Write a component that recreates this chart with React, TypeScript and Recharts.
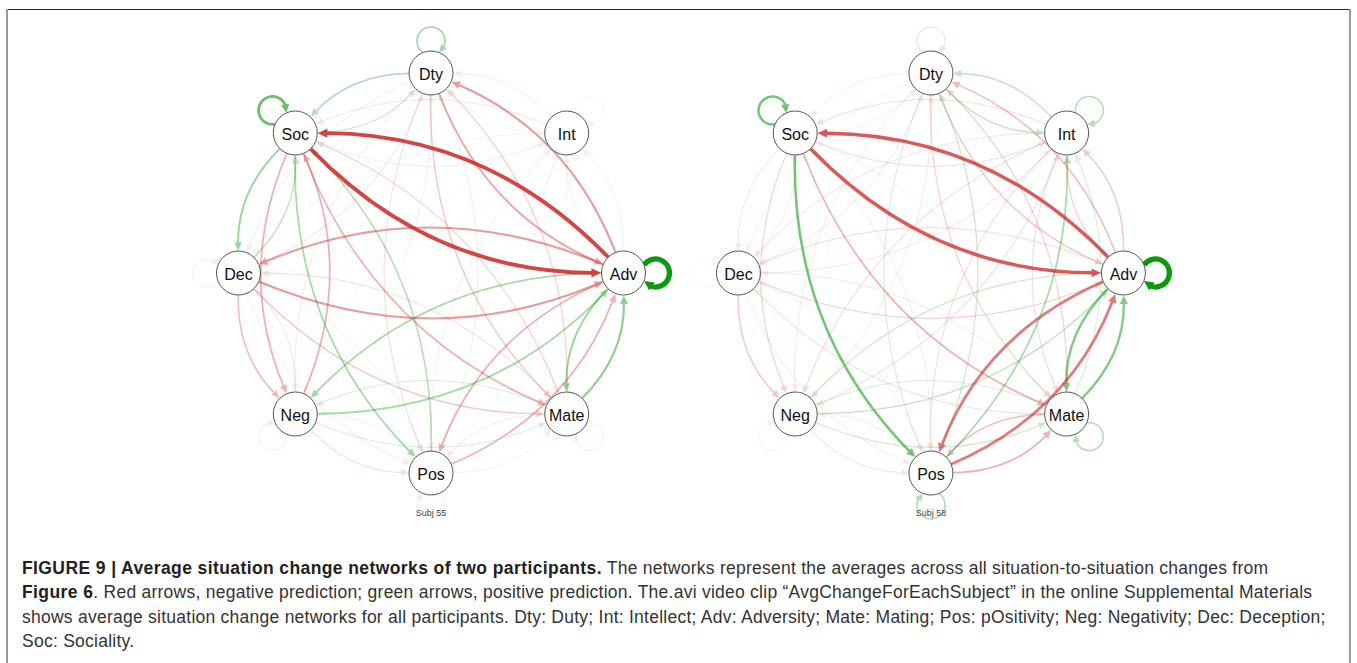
import { ScatterChart, Scatter, XAxis, YAxis } from 'recharts';

// node layout (circle layout, unit radius) – Dty on top, clockwise
const nodeNames = ['Dty', 'Int', 'Adv', 'Mate', 'Pos', 'Neg', 'Dec', 'Soc'];
const nodeX = [0, 0.705, 1, 0.705, 0, -0.705, -1, -0.705];
const nodeY = [1, 0.7, 0, -0.705, -1, -0.705, 0, 0.7];

const networkOffsets = [0, 2.597];
const networkLabels = ['Subj 55', 'Subj 58'];

// self loops, in nodeNames order
const subj55Loops = [0.35, 0.06, 1, 0.1, 0.1, 0.1, 0.1, 0.6];
const subj58Loops = [0.15, 0.3, 1, 0.3, 0.3, 0.08, 0.04, 0.55];

// [from, to, weight]  (negative = red, positive = green)
const subj55Edges: [string, string, number][] = [
  ['Dty', 'Int', -0.05], ['Dty', 'Adv', -0.4], ['Dty', 'Mate', -0.25], ['Dty', 'Pos', -0.15],
  ['Dty', 'Neg', -0.1], ['Dty', 'Dec', 0.1], ['Dty', 'Soc', 0.3],
  ['Int', 'Dty', -0.1], ['Int', 'Adv', 0.08], ['Int', 'Mate', -0.05], ['Int', 'Pos', -0.08],
  ['Int', 'Neg', 0.05], ['Int', 'Dec', -0.05], ['Int', 'Soc', -0.12],
  ['Adv', 'Dty', -0.45], ['Adv', 'Int', 0.08], ['Adv', 'Mate', 0.4], ['Adv', 'Pos', -0.35],
  ['Adv', 'Neg', 0.35], ['Adv', 'Dec', -0.45], ['Adv', 'Soc', -0.85],
  ['Mate', 'Dty', -0.2], ['Mate', 'Int', 0.05], ['Mate', 'Adv', 0.45], ['Mate', 'Pos', -0.1],
  ['Mate', 'Neg', 0.15], ['Mate', 'Dec', -0.15], ['Mate', 'Soc', -0.2],
  ['Pos', 'Dty', 0.1], ['Pos', 'Int', 0.05], ['Pos', 'Adv', -0.35], ['Pos', 'Mate', 0.08],
  ['Pos', 'Neg', 0.08], ['Pos', 'Dec', -0.08], ['Pos', 'Soc', 0.3],
  ['Neg', 'Dty', 0.08], ['Neg', 'Int', 0.05], ['Neg', 'Adv', 0.35], ['Neg', 'Mate', 0.15],
  ['Neg', 'Pos', -0.15], ['Neg', 'Dec', -0.12], ['Neg', 'Soc', -0.35],
  ['Dec', 'Dty', -0.12], ['Dec', 'Int', 0.05], ['Dec', 'Adv', -0.45], ['Dec', 'Mate', -0.25],
  ['Dec', 'Pos', 0.1], ['Dec', 'Neg', -0.3], ['Dec', 'Soc', 0.25],
  ['Soc', 'Dty', 0.2], ['Soc', 'Int', -0.1], ['Soc', 'Adv', -0.85], ['Soc', 'Mate', -0.35],
  ['Soc', 'Pos', 0.35], ['Soc', 'Neg', -0.35], ['Soc', 'Dec', 0.4],
];

const subj58Edges: [string, string, number][] = [
  ['Dty', 'Int', 0.25], ['Dty', 'Adv', -0.25], ['Dty', 'Mate', -0.2], ['Dty', 'Pos', 0.15],
  ['Dty', 'Neg', -0.1], ['Dty', 'Dec', -0.08], ['Dty', 'Soc', -0.08],
  ['Int', 'Dty', 0.25], ['Int', 'Adv', -0.2], ['Int', 'Mate', -0.15], ['Int', 'Pos', -0.15],
  ['Int', 'Neg', -0.15], ['Int', 'Dec', -0.12], ['Int', 'Soc', -0.15],
  ['Adv', 'Dty', -0.3], ['Adv', 'Int', -0.25], ['Adv', 'Mate', 0.5], ['Adv', 'Pos', -0.6],
  ['Adv', 'Neg', 0.2], ['Adv', 'Dec', -0.15], ['Adv', 'Soc', -0.75],
  ['Mate', 'Dty', -0.2], ['Mate', 'Int', 0.15], ['Mate', 'Adv', 0.5], ['Mate', 'Pos', -0.3],
  ['Mate', 'Neg', 0.15], ['Mate', 'Dec', -0.1], ['Mate', 'Soc', -0.08],
  ['Pos', 'Dty', 0.2], ['Pos', 'Int', 0.35], ['Pos', 'Adv', -0.6], ['Pos', 'Mate', -0.35],
  ['Pos', 'Neg', 0.1], ['Pos', 'Dec', -0.08], ['Pos', 'Soc', 0.1],
  ['Neg', 'Dty', -0.1], ['Neg', 'Int', -0.15], ['Neg', 'Adv', 0.25], ['Neg', 'Mate', 0.2],
  ['Neg', 'Pos', -0.12], ['Neg', 'Dec', 0.05], ['Neg', 'Soc', 0.05],
  ['Dec', 'Dty', -0.1], ['Dec', 'Int', -0.12], ['Dec', 'Adv', -0.2], ['Dec', 'Mate', -0.15],
  ['Dec', 'Pos', -0.1], ['Dec', 'Neg', -0.25], ['Dec', 'Soc', 0.1],
  ['Soc', 'Dty', -0.08], ['Soc', 'Int', -0.15], ['Soc', 'Adv', -0.75], ['Soc', 'Mate', -0.35],
  ['Soc', 'Pos', 0.55], ['Soc', 'Neg', -0.2], ['Soc', 'Dec', 0.12],
];

const POS_COL = '#0a990a';
const NEG_COL = '#cc2929';
const NODE_R = 22;
const W = 1357;
const H = 540;

const edgeColor = (w: number) => (w > 0 ? POS_COL : NEG_COL);
const edgeOpacity = (w: number) => Math.min(1, Math.max(0.06, Math.abs(w) * 1.02));
const edgeWidth = (w: number) => 0.8 + 3.8 * Math.pow(Math.abs(w), 1.3);

type Edge = { from: string; to: string; w: number };

function buildEdges(list: [string, string, number][]): Edge[] {
  return list
    .map(([from, to, w]) => ({ from, to, w }))
    .sort((a, b) => Math.abs(a.w) - Math.abs(b.w));
}

function pointOf(name: string, net: number) {
  const i = nodeNames.indexOf(name);
  return { x: nodeX[i] + networkOffsets[net], y: nodeY[i] };
}

function unit(x: number, y: number) {
  const l = Math.hypot(x, y) || 1;
  return [x / l, y / l];
}

// draws all edges of a network from the pixel points recharts hands to the line renderer
function makeEdgeLine(edges: Edge[]) {
  return (props: any) => {
    const pts = props.points || [];
    const items: any[] = [];
    edges.forEach((e, i) => {
      const s = pts[2 * i];
      const t = pts[2 * i + 1];
      if (!s || !t) return;
      const dx = t.x - s.x;
      const dy = t.y - s.y;
      const k = 0.21;
      const cx = (s.x + t.x) / 2 - dy * k;
      const cy = (s.y + t.y) / 2 + dx * k;
      const [us0, us1] = unit(cx - s.x, cy - s.y);
      const [ut0, ut1] = unit(cx - t.x, cy - t.y);
      const sx = s.x + us0 * NODE_R;
      const sy = s.y + us1 * NODE_R;
      const tipX = t.x + ut0 * (NODE_R + 0.5);
      const tipY = t.y + ut1 * (NODE_R + 0.5);
      const a = Math.abs(e.w);
      const L = 7 + 3 * a;
      const hw = 3.2 + 1.6 * a;
      const [dx1, dy1] = unit(tipX - cx, tipY - cy);
      const bx = tipX - dx1 * L;
      const by = tipY - dy1 * L;
      const col = edgeColor(e.w);
      const op = edgeOpacity(e.w);
      items.push(
        <g key={i} opacity={op}>
          <path
            d={`M${sx},${sy} Q${cx},${cy} ${bx + dx1 * 1},${by + dy1 * 1}`}
            fill="none"
            stroke={col}
            strokeWidth={edgeWidth(e.w)}
          />
          <path
            d={`M${tipX},${tipY} L${bx - dy1 * hw},${by + dx1 * hw} L${bx + dy1 * hw},${by - dx1 * hw} Z`}
            fill={col}
          />
        </g>
      );
    });
    return <g>{items}</g>;
  };
}

const LoopShape = (props: any) => {
  const { cx, cy, payload } = props;
  if (cx == null || cy == null) return <g />;
  const w = payload.w;
  const [ux, uy] = unit(payload.dx, -payload.dy);
  const d = 32;
  const R = 14;
  const lx = cx + ux * d;
  const ly = cy + uy * d;
  const phi = Math.acos((R * R + d * d - NODE_R * NODE_R) / (2 * R * d));
  const beta = Math.atan2(cy - ly, cx - lx);
  const a0 = beta + phi;
  const aEnd = beta + 2 * Math.PI - phi;
  const a = Math.abs(w);
  const L = 7 + 3 * a;
  const hw = 3.2 + 1.6 * a;
  const aBase = aEnd - L / R;
  const p = (ang: number) => [lx + R * Math.cos(ang), ly + R * Math.sin(ang)];
  const [x0, y0] = p(a0);
  const [x1, y1] = p(aBase + 0.05);
  const [tx, ty] = p(aEnd);
  const [bx, by] = p(aBase);
  const [tdx, tdy] = unit(tx - bx, ty - by);
  const col = edgeColor(w);
  return (
    <g opacity={edgeOpacity(w)}>
      <path
        d={`M${x0},${y0} A${R},${R} 0 1 1 ${x1},${y1}`}
        fill="none"
        stroke={col}
        strokeWidth={edgeWidth(w) + (a > 0.9 ? 0.6 : 0)}
      />
      <path
        d={`M${tx},${ty} L${bx - tdy * hw},${by + tdx * hw} L${bx + tdy * hw},${by - tdx * hw} Z`}
        fill={col}
      />
    </g>
  );
};

const NodeShape = (props: any) => {
  const { cx, cy, payload } = props;
  return (
    <g>
      <circle cx={cx} cy={cy} r={NODE_R} fill="#fff" stroke="#555" strokeWidth={1} />
      <text
        x={cx}
        y={cy + 1}
        textAnchor="middle"
        dominantBaseline="central"
        fontFamily="'Liberation Sans', Arial, sans-serif"
        fontSize={16}
        fill="#111"
      >
        {payload.name}
      </text>
    </g>
  );
};

const LabelShape = (props: any) => {
  const { cx, cy, payload } = props;
  return (
    <text
      x={cx}
      y={cy}
      textAnchor="middle"
      dominantBaseline="central"
      fontFamily="'Liberation Sans', Arial, sans-serif"
      fontSize={9}
      fill="#444"
    >
      {payload.label}
    </text>
  );
};

const Empty = () => <g />;

const networks = [subj55Edges, subj58Edges].map((list, net) => {
  const edges = buildEdges(list);
  const edgePoints = edges.flatMap((e) => [pointOf(e.from, net), pointOf(e.to, net)]);
  const loops = (net === 0 ? subj55Loops : subj58Loops).map((w, i) => ({
    x: nodeX[i] + networkOffsets[net],
    y: nodeY[i],
    dx: nodeX[i],
    dy: nodeY[i],
    w,
  }));
  const nodes = nodeNames.map((name, i) => ({
    x: nodeX[i] + networkOffsets[net],
    y: nodeY[i],
    name,
  }));
  return { edges, edgePoints, loops, nodes };
});

const labelData = networkLabels.map((label, net) => ({ x: networkOffsets[net], y: -1.2, label }));

const captionLines = [
  [
    'FIGURE 9 | Average situation change networks of two participants.',
    ' The networks represent the averages across all situation-to-situation changes from',
  ],
  [
    'Figure 6',
    '. Red arrows, negative prediction; green arrows, positive prediction. The.avi video clip \u201cAvgChangeForEachSubject\u201d in the online Supplemental Materials',
  ],
  [
    '',
    'shows average situation change networks for all participants. Dty: Duty; Int: Intellect; Adv: Adversity; Mate: Mating; Pos: pOsitivity; Neg: Negativity; Dec: Deception;',
  ],
  ['', 'Soc: Sociality.'],
];

export default function App() {
  return (
    <div
      style={{
        position: 'absolute',
        left: 0,
        top: 0,
        width: W,
        height: 663,
        background: '#fff',
        overflow: 'hidden',
        fontFamily: "'Liberation Sans', Arial, sans-serif",
      }}
    >
      <div style={{ position: 'absolute', left: 7, top: 9, width: 1343, height: 0, borderTop: '1.5px solid #222' }} />
      <div style={{ position: 'absolute', left: 6, top: 9, width: 0, height: 660, borderLeft: '2px solid #999' }} />
      <div style={{ position: 'absolute', left: 1349, top: 9, width: 0, height: 660, borderLeft: '2px solid #999' }} />
      <div style={{ position: 'absolute', left: 0, top: 0 }}>
        <ScatterChart width={W} height={H} margin={{ top: 0, right: 0, bottom: 0, left: 0 }}>
          <XAxis
            type="number"
            dataKey="x"
            domain={[-431 / 192.5, (W - 431) / 192.5]}
            allowDataOverflow
            hide
            scale="linear"
          />
          <YAxis
            type="number"
            dataKey="y"
            domain={[-(H - 273) / 200, 273 / 200]}
            allowDataOverflow
            hide
            scale="linear"
          />
          {networks.map((n, net) => (
            <Scatter
              key={`e${net}`}
              data={n.edgePoints}
              shape={Empty}
              line={makeEdgeLine(n.edges)}
              isAnimationActive={false}
            />
          ))}
          {networks.map((n, net) => (
            <Scatter key={`l${net}`} data={n.loops} shape={LoopShape} isAnimationActive={false} />
          ))}
          {networks.map((n, net) => (
            <Scatter key={`n${net}`} data={n.nodes} shape={NodeShape} isAnimationActive={false} />
          ))}
          <Scatter data={labelData} shape={LabelShape} isAnimationActive={false} />
        </ScatterChart>
      </div>
      <div
        style={{
          position: 'absolute',
          left: 22,
          top: 556,
          fontSize: 17.5,
          letterSpacing: '0.25px',
          lineHeight: '24.3px',
          color: '#333',
          whiteSpace: 'nowrap',
        }}
      >
        {captionLines.map(([bold, rest], i) => (
          <div key={i}>
            {bold && <b style={{ color: '#222', letterSpacing: '0.4px' }}>{bold}</b>}
            {rest}
          </div>
        ))}
      </div>
    </div>
  );
}
